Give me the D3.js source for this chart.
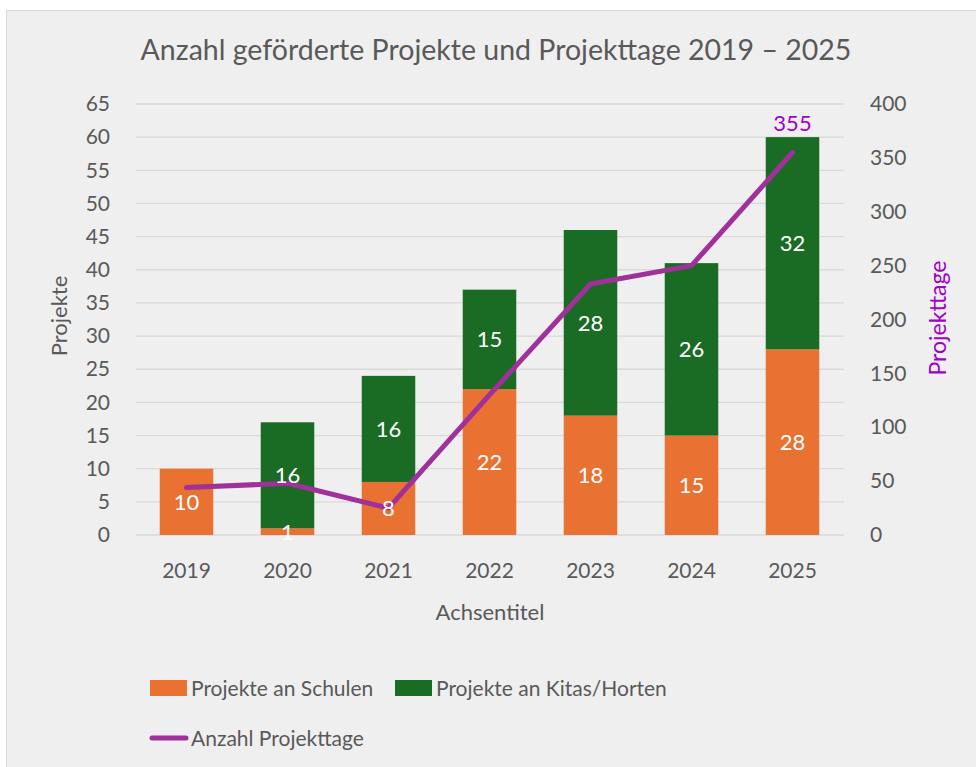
<!DOCTYPE html>
<html>
<head>
<meta charset="utf-8">
<script src="https://cdn.jsdelivr.net/npm/d3@7"></script>
<style>
	body { margin: 0; background: #ffffff; }
	text { font-family: Lato, "Open Sans", sans-serif; }
</style>
</head>
<body>
<svg id="chart" width="976" height="767"></svg>
<script>
// data
var years = ["2019", "2020", "2021", "2022", "2023", "2024", "2025"];
var schulen = [10, 1, 8, 22, 18, 15, 28];
var kitas = [0, 16, 16, 15, 28, 26, 32];
var projekttage = [44, 48, 25, 130, 233, 250, 355];
var leftTicks = [0, 5, 10, 15, 20, 25, 30, 35, 40, 45, 50, 55, 60, 65];
var rightTicks = [0, 50, 100, 150, 200, 250, 300, 350, 400];

var orange = "#e97132",
	green = "#1a6b24",
	purple = "#a0309a",
	purpleText = "#a000c8",
	grey = "#595959";

var svg = d3.select("#chart");

// frame
svg
	.append("rect")
	.attr("x", 6.5)
	.attr("y", 10.5)
	.attr("width", 976)
	.attr("height", 767)
	.style("fill", "#efefef")
	.style("stroke", "#d9d9d9");

var x = d3.scaleBand().domain(years).range([136, 843]).paddingInner(0.47).paddingOuter(0.235);
var y = d3.scaleLinear().domain([0, 65]).range([535, 104]);
var y2 = d3.scaleLinear().domain([0, 400]).range([535, 104]);

// gridlines
svg
	.append("g")
	.selectAll("line")
	.data(leftTicks)
	.enter()
	.append("line")
	.attr("x1", 136)
	.attr("x2", 844)
	.attr("y1", function (d) {
		return y(d);
	})
	.attr("y2", function (d) {
		return y(d);
	})
	.style("stroke", "#d9d9d9")
	.style("stroke-width", 1.3);

// left axis
var leftAxis = svg
	.append("g")
	.attr("transform", "translate(136,0)")
	.call(d3.axisLeft(y).tickValues(leftTicks).tickSize(0).tickPadding(26));
leftAxis.select(".domain").remove();
leftAxis.selectAll("text").style("font-size", "21px").style("fill", grey);

// right axis
var rightAxis = svg
	.append("g")
	.attr("transform", "translate(844,0)")
	.call(d3.axisRight(y2).tickValues(rightTicks).tickSize(0).tickPadding(26));
rightAxis.select(".domain").remove();
rightAxis.selectAll("text").style("font-size", "21px").style("fill", grey);

// x axis
var xAxis = svg
	.append("g")
	.attr("transform", "translate(0,535)")
	.call(d3.axisBottom(x).tickSize(0).tickPadding(28));
xAxis.select(".domain").remove();
xAxis.selectAll("text").style("font-size", "21px").style("fill", grey);

// bars
var stackData = years.map(function (yr, i) {
	return { year: yr, schulen: schulen[i], kitas: kitas[i] };
});
var series = d3.stack().keys(["schulen", "kitas"])(stackData);
var colors = { schulen: orange, kitas: green };

series.forEach(function (s) {
	var g = svg.append("g");
	g.selectAll("rect")
		.data(s.filter(function (d) {
			return d[1] - d[0] > 0;
		}))
		.enter()
		.append("rect")
		.attr("x", function (d) {
			return x(d.data.year);
		})
		.attr("width", x.bandwidth())
		.attr("y", function (d) {
			return y(d[1]);
		})
		.attr("height", function (d) {
			return y(d[0]) - y(d[1]);
		})
		.style("fill", colors[s.key]);
});

// line
var line = d3
	.line()
	.x(function (d, i) {
		return x(years[i]) + x.bandwidth() / 2;
	})
	.y(function (d) {
		return y2(d);
	});

svg
	.append("path")
	.datum(projekttage)
	.attr("d", line)
	.style("fill", "none")
	.style("stroke", purple)
	.style("stroke-width", 5)
	.style("stroke-linecap", "round")
	.style("stroke-linejoin", "round");

// bar labels
series.forEach(function (s) {
	svg
		.append("g")
		.selectAll("text")
		.data(s.filter(function (d) {
			return d[1] - d[0] > 0;
		}))
		.enter()
		.append("text")
		.attr("x", function (d) {
			return x(d.data.year) + x.bandwidth() / 2;
		})
		.attr("y", function (d) {
			return (y(d[0]) + y(d[1])) / 2;
		})
		.attr("dy", "0.36em")
		.attr("text-anchor", "middle")
		.style("font-size", "22px")
		.style("fill", "#ffffff")
		.text(function (d) {
			return d[1] - d[0];
		});
});

// last line label
var last = projekttage.length - 1;
svg
	.append("text")
	.attr("x", x(years[last]) + x.bandwidth() / 2)
	.attr("y", y2(projekttage[last]) - 21)
	.attr("text-anchor", "middle")
	.style("font-size", "22px")
	.style("fill", purpleText)
	.text(projekttage[last]);

// title
svg
	.append("text")
	.attr("x", 496)
	.attr("y", 60)
	.attr("text-anchor", "middle")
	.style("font-size", "28.5px")
	.style("fill", grey)
	.text("Anzahl geförderte Projekte und Projekttage 2019 – 2025");

// axis titles
svg
	.append("text")
	.attr("transform", "translate(67,316) rotate(-90)")
	.attr("text-anchor", "middle")
	.style("font-size", "22px")
	.style("fill", grey)
	.text("Projekte");

svg
	.append("text")
	.attr("transform", "translate(946,318) rotate(-90)")
	.attr("text-anchor", "middle")
	.style("font-size", "23px")
	.style("fill", purpleText)
	.text("Projekttage");

svg
	.append("text")
	.attr("x", 490)
	.attr("y", 620)
	.attr("text-anchor", "middle")
	.style("font-size", "22px")
	.style("fill", grey)
	.text("Achsentitel");

// legend
var legendItems = [
	{ label: "Projekte an Schulen", type: "rect", color: orange, x: 150, y: 688 },
	{ label: "Projekte an Kitas/Horten", type: "rect", color: green, x: 395, y: 688 },
	{ label: "Anzahl Projekttage", type: "line", color: purple, x: 150, y: 738 },
];

legendItems.forEach(function (d) {
	if (d.type == "rect") {
		svg
			.append("rect")
			.attr("x", d.x)
			.attr("y", d.y - 8)
			.attr("width", 37)
			.attr("height", 16)
			.style("fill", d.color);
	} else {
		svg
			.append("line")
			.attr("x1", d.x + 2)
			.attr("x2", d.x + 36)
			.attr("y1", d.y)
			.attr("y2", d.y)
			.style("stroke", d.color)
			.style("stroke-width", 5)
			.style("stroke-linecap", "round");
	}
	svg
		.append("text")
		.attr("x", d.x + 41)
		.attr("y", d.y)
		.attr("dy", "0.36em")
		.style("font-size", "21px")
		.style("fill", grey)
		.text(d.label);
});
</script>
</body>
</html>
